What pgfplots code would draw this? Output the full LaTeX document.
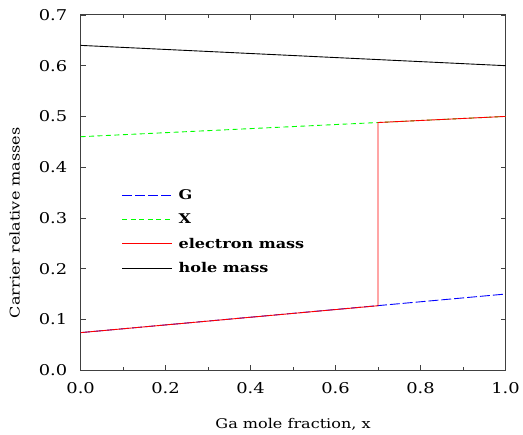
\documentclass[border=0pt]{standalone}
\usepackage{fontspec}
\setmainfont{DejaVu Serif}[FakeStretch=1.2]
\usepackage{pgfplots}
\pgfplotsset{compat=1.18}
\begin{document}
\begin{tikzpicture}
\begin{axis}[
  at={(0,0)}, anchor=south west,
  scale only axis, width=427bp, height=357bp,
  xmin=0, xmax=1, ymin=0, ymax=0.7,
  xtick={0,0.2,...,1.0}, minor x tick num=1,
  ytick={0,0.1,...,0.7},
  tick align=inside,
  major tick length=5bp, minor tick length=3bp,
  axis line style={line width=0.9pt, black!75},
  every tick/.style={black!75, line width=0.8pt},
  /pgf/number format/fixed,
  /pgf/number format/fixed zerofill,
  /pgf/number format/precision=1,
  /pgf/number format/assume math mode=true,
  tick label style={font=\fontsize{15}{17}\selectfont},
  xticklabel shift=9bp,
  yticklabel shift=10bp,
  xlabel={Ga mole fraction, x},
  ylabel={Carrier relative masses},
  label style={font=\fontsize{13.5}{15}\selectfont},
  xlabel style={at={(axis description cs:0.5,-0.152)}, anchor=center},
  ylabel style={at={(axis description cs:-0.155,0.415)}, anchor=center},
  legend cell align=left,
  legend style={at={(rel axis cs:0.09,0.52)}, anchor=north west, draw=none, fill=none,
    font=\bfseries\fontsize{13.5}{13.5}\selectfont, row sep=9bp,
    nodes={inner xsep=6bp}},
  legend image code/.code={\draw[#1] (0bp,0bp) -- (50bp,0bp);},
  every odd column/.append style={column sep=4bp},
]
\addplot[blue, line width=0.9pt, dash pattern=on 10bp off 3bp] coordinates {(0,0.074) (1,0.150)};
\addlegendentry{G}
\addplot[green, line width=0.9pt, dash pattern=on 5bp off 3.5bp] coordinates {(0,0.460) (1,0.500)};
\addlegendentry{X}
\addplot[red, line width=0.9pt] coordinates {(0,0.074) (0.7,0.127) (0.7,0.488) (1,0.500)};
\addlegendentry{electron mass}
\addplot[black, line width=0.9pt] coordinates {(0,0.640) (1,0.600)};
\addlegendentry{hole mass}
\end{axis}
\path[use as bounding box] (-81bp,-65bp) rectangle (442bp,372bp);
\end{tikzpicture}
\end{document}
